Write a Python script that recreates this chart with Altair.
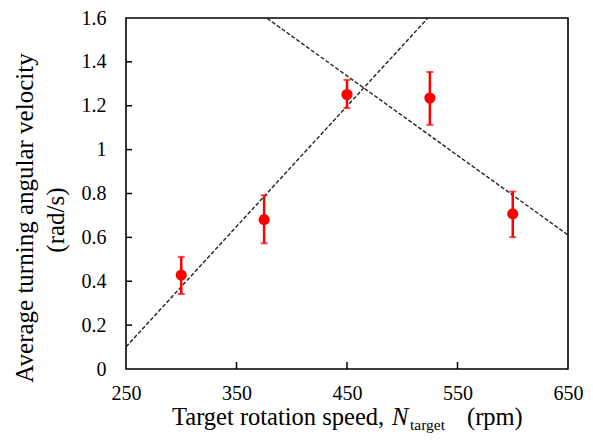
import altair as alt
import pandas as pd

# ---- data ----
speed = [300, 375, 450, 525, 600]
omega = [0.428, 0.681, 1.251, 1.235, 0.707]
err_lo = [0.342, 0.573, 1.189, 1.113, 0.601]
err_hi = [0.511, 0.792, 1.318, 1.354, 0.809]

x_ticks = [250, 350, 450, 550, 650]
y_ticks = [0, 0.2, 0.4, 0.6, 0.8, 1.0, 1.2, 1.4, 1.6]
x_inner_ticks = [350, 450, 550]
y_inner_ticks = [0.2, 0.4, 0.6, 0.8, 1.0, 1.2, 1.4]

df = pd.DataFrame({"speed": speed, "omega": omega, "lo": err_lo, "hi": err_hi})
W, H = 442, 351
FONT = "Liberation Serif"

xs = alt.Scale(domain=[250, 650], nice=False, zero=False)
ys = alt.Scale(domain=[0, 1.6], nice=False)

xaxis = alt.Axis(values=x_ticks, ticks=False, domain=False, grid=False, labelFont=FONT,
                 labelFontSize=20, labelColor="black", labelPadding=14, title=None,
                 labelFlush=False)
yaxis = alt.Axis(values=y_ticks, ticks=False, domain=False, grid=False, labelFont=FONT,
                 labelFontSize=20, labelColor="black", labelPadding=20, title=None,
                 format="~g")

base = alt.Chart(df)

# regression lines (first three points rising, last three falling)
rise = base.transform_filter(alt.datum.speed <= 450).transform_regression(
    "speed", "omega", extent=[250, 650]
).mark_line(color="#222", strokeDash=[4, 2], strokeWidth=1.4, clip=True).encode(
    x=alt.X("speed:Q", scale=xs, axis=xaxis),
    y=alt.Y("omega:Q", scale=ys, axis=yaxis),
)
fall = base.transform_filter(alt.datum.speed >= 450).transform_regression(
    "speed", "omega", extent=[250, 650]
).mark_line(color="#222", strokeDash=[4, 2], strokeWidth=1.4, clip=True).encode(
    x=alt.X("speed:Q", scale=xs),
    y=alt.Y("omega:Q", scale=ys),
)

bars = base.mark_rule(color="#ff0000", strokeWidth=2.5).encode(
    x=alt.X("speed:Q", scale=xs), y=alt.Y("lo:Q", scale=ys), y2="hi:Q"
)
cap_lo = base.mark_tick(color="#ff0000", orient="horizontal", size=7, thickness=2).encode(
    x=alt.X("speed:Q", scale=xs), y=alt.Y("lo:Q", scale=ys)
)
cap_hi = base.mark_tick(color="#ff0000", orient="horizontal", size=7, thickness=2).encode(
    x=alt.X("speed:Q", scale=xs), y=alt.Y("hi:Q", scale=ys)
)
pts = base.mark_circle(color="#ff0000", opacity=1, size=125).encode(
    x=alt.X("speed:Q", scale=xs), y=alt.Y("omega:Q", scale=ys)
)

# inward ticks
xt = alt.Chart(pd.DataFrame({"t": x_inner_ticks})).mark_rule(color="black", strokeWidth=1.5).encode(
    x=alt.X("t:Q", scale=xs), y=alt.value(H), y2=alt.value(H - 7)
)
yt = alt.Chart(pd.DataFrame({"t": y_inner_ticks})).mark_rule(color="black", strokeWidth=1.5).encode(
    y=alt.Y("t:Q", scale=ys), x=alt.value(0), x2=alt.value(6)
)

def txt(s, x, y, size=24.5, style="normal", angle=0, align="left"):
    return alt.Chart(pd.DataFrame({"s": [s]})).mark_text(
        font=FONT, fontSize=size, fontStyle=style, angle=angle, align=align,
        baseline="alphabetic", color="black"
    ).encode(text="s:N", x=alt.value(x), y=alt.value(y))

titles = [
    txt("Target rotation speed,", 46, 407),
    txt("N", 266, 407, style="italic"),
    txt("target", 284, 412, size=15.5),
    txt("(rpm)", 341, 407),
    txt("Average turning angular velocity", -93, 200, size=25, angle=270, align="center"),
    txt("(rad/s)", -62, 202, size=25, angle=270, align="center"),
]

chart = alt.layer(rise, fall, bars, cap_lo, cap_hi, pts, xt, yt, *titles).properties(
    width=W, height=H,
    autosize=alt.AutoSizeParams(type="none"),
    padding={"left": 118, "top": 10, "right": 17, "bottom": 65},
).configure_view(stroke="black", strokeWidth=1.6)

chart.save("out.html", embed_options={"renderer": "svg", "actions": False})
